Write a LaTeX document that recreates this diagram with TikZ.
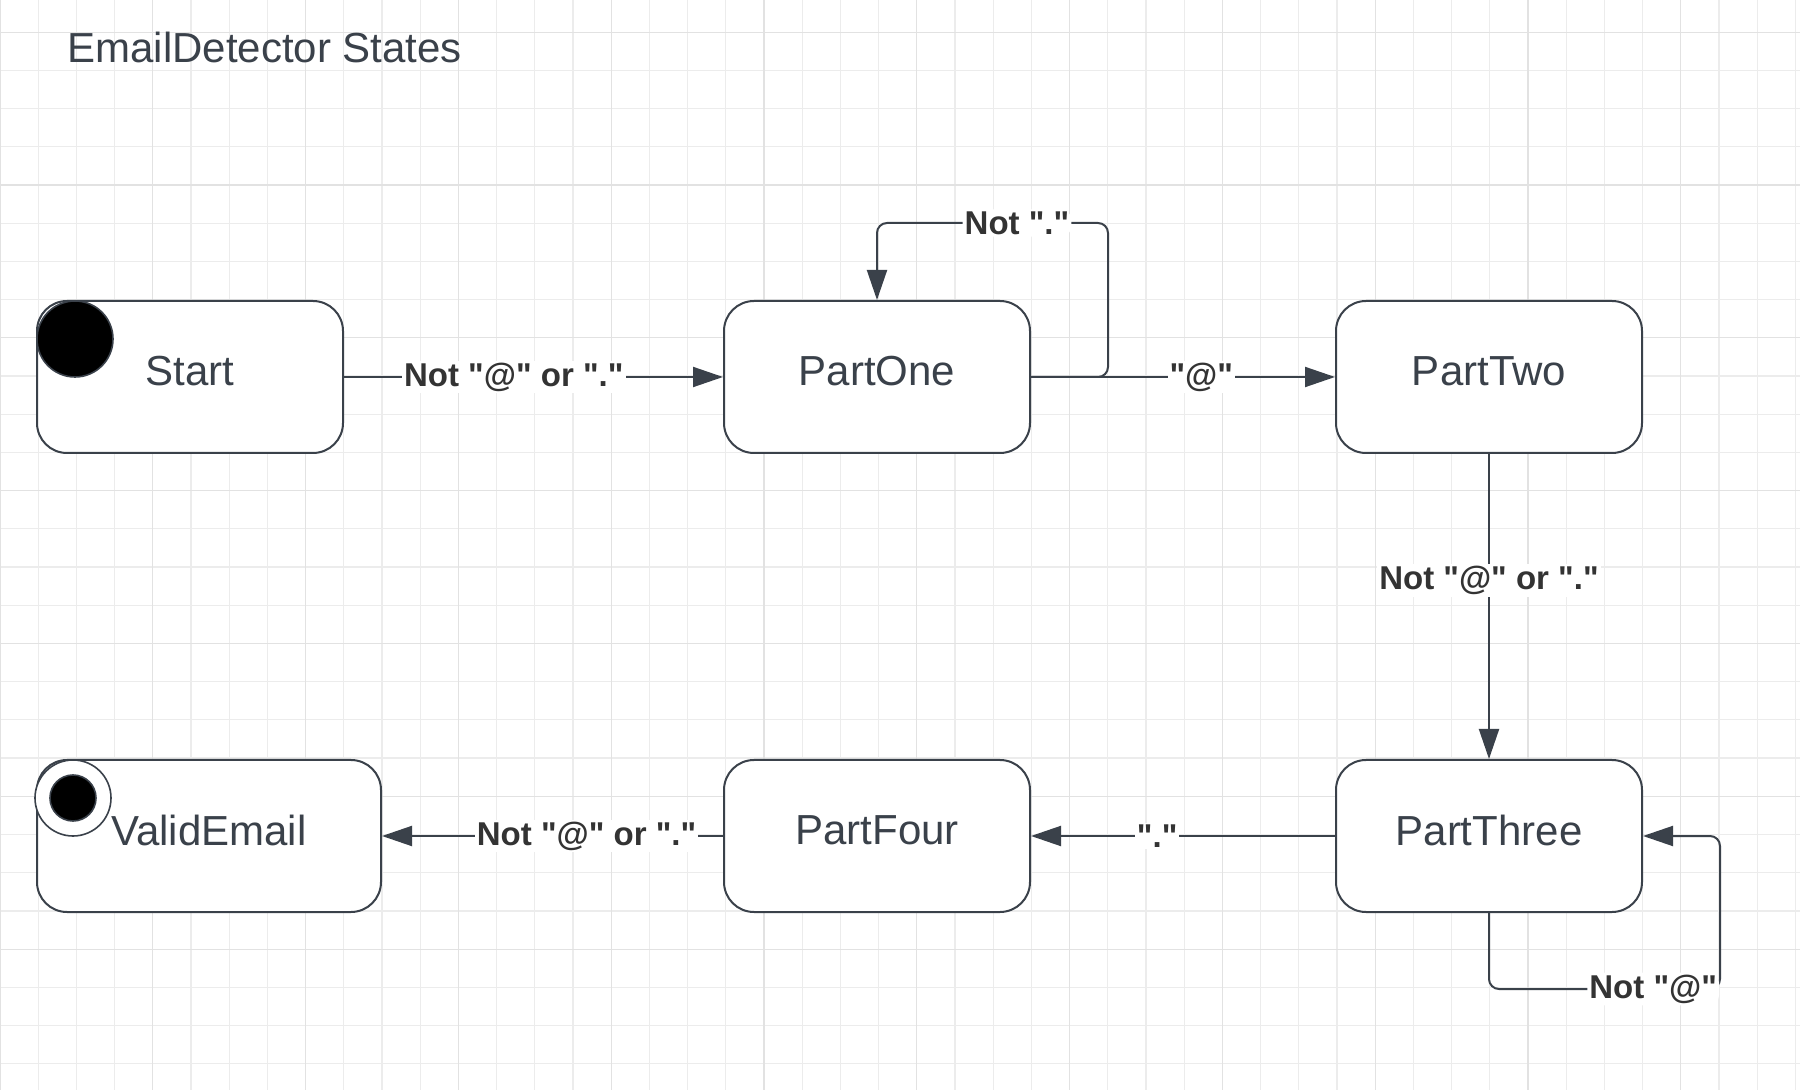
\documentclass[tikz,border=0pt]{standalone}
\usepackage{fontspec}
\setmainfont{Liberation Sans}[Ligatures=TeXOff]
\usetikzlibrary{arrows.meta}
\definecolor{linecol}{HTML}{3A414A}
\definecolor{lblcol}{HTML}{333333}
\definecolor{gridmin}{HTML}{ECECEC}
\definecolor{gridmaj}{HTML}{E2E2E2}
\begin{document}
\begin{tikzpicture}[x=0.5pt, y=-0.5pt,
    state/.style={draw=linecol, line width=1pt, rounded corners=15pt, fill=white,
        minimum width=153pt, minimum height=76pt, text=linecol, text depth=6pt,
        font=\fontsize{21}{25}\selectfont},
    trans/.style={draw=linecol, line width=1pt, -{Triangle[length=15pt,width=10pt]}},
    lbl/.style={fill=white, text=lblcol, inner xsep=1pt, inner ysep=1pt,
        font=\bfseries\fontsize{16.5}{19}\selectfont}]
    \useasboundingbox (0,0) rectangle (1800,1090);
    % background grid
    \foreach \i in {0,...,47} \draw[gridmin, line width=0.6pt] (\i*38.2,0) -- (\i*38.2,1090);
    \foreach \j in {0,...,27} \draw[gridmin, line width=0.6pt] (0,32.3+\j*38.2) -- (1800,32.3+\j*38.2);
    \foreach \i in {0,4,...,44} \draw[gridmaj, line width=0.6pt] (\i*38.2,0) -- (\i*38.2,1090);
    \foreach \j in {0,4,...,24} \draw[gridmaj, line width=0.6pt] (0,32.3+\j*38.2) -- (1800,32.3+\j*38.2);
    \node[anchor=base west, inner sep=0pt, text=linecol, font=\fontsize{21}{25}\selectfont] (title) at (67,63) {EmailDetector States};
    % states
    \node[state] (start) at (190,377) {Start};
    \node[state] (one) at (877,377) {PartOne};
    \node[state] (two) at (1489,377) {PartTwo};
    \node[state] (three) at (1489,836) {PartThree};
    \node[state] (four) at (877,836) {PartFour};
    \node[state, minimum width=172pt] (valid) at (209,836) {ValidEmail};
    \node[circle, draw=linecol, line width=0.8pt, fill=black, minimum size=38pt, inner sep=0pt] (initdot) at (75,339) {};
    \node[circle, draw=linecol, line width=0.8pt, fill=white, minimum size=38pt, inner sep=0pt] (finring) at (73,798) {};
    \node[circle, draw=linecol, line width=0.8pt, fill=black, minimum size=23pt, inner sep=0pt] (findot) at (finring) {};
    % transitions
    \coordinate (loopA) at (1108,223);
    \coordinate (loopB) at (1720,989);
    \draw[trans] (start) -- node[lbl, pos=0.448] {Not "@" or "."} (one);
    \draw[trans] (one) -- node[lbl, pos=0.56] {"@"} (two);
    \draw[trans, rounded corners=5pt] (one.east) -| (loopA) -| node[lbl, pos=0.197] {Not "."} (one.north);
    \draw[trans] (two) -- node[lbl, pos=0.415] {Not "@" or "."} (three);
    \draw[trans, rounded corners=5pt] (three.south) |- node[lbl, pos=1, anchor=east] {Not "@"} (loopB) |- (three.east);
    \draw[trans] (three) -- node[lbl, pos=0.585] {"."} (four);
    \draw[trans] (four) -- node[lbl, pos=0.40] {Not "@" or "."} (valid);
\end{tikzpicture}
\end{document}
